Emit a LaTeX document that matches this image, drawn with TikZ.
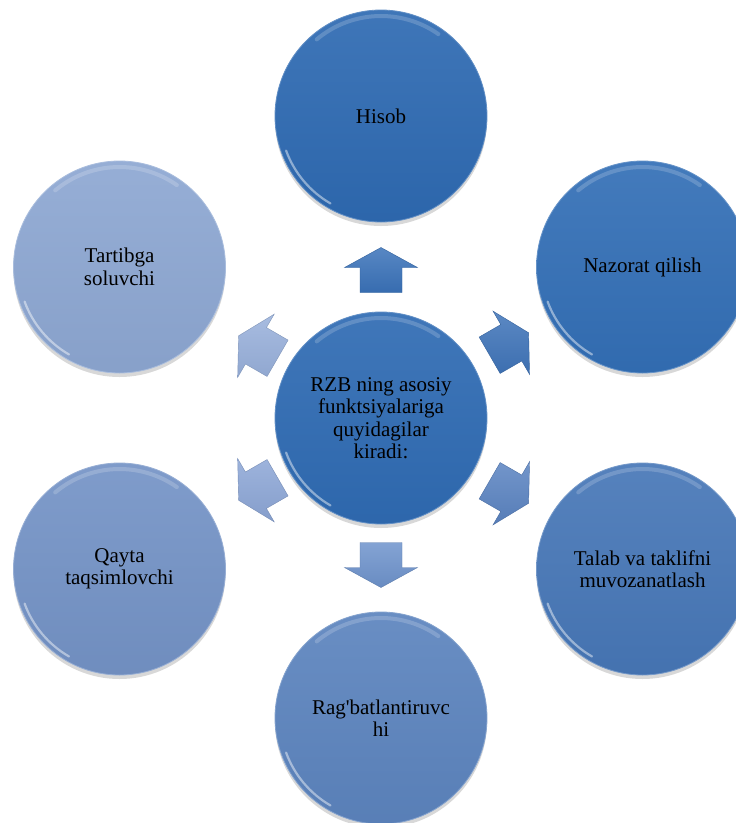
\documentclass[tikz,border=0pt]{standalone}
\usepackage{fontspec}
\setmainfont{Liberation Serif}
\usetikzlibrary{calc,shadows}
\definecolor{cC}{HTML}{2F6BB3}
\definecolor{cA}{HTML}{2E6AB2}
\definecolor{cB}{HTML}{336FB6}
\definecolor{cD}{HTML}{4777B7}
\definecolor{cE}{HTML}{5C84BE}
\definecolor{cF}{HTML}{7493C6}
\definecolor{cG}{HTML}{8DA7D2}
\definecolor{aA}{HTML}{3A72B9}
\definecolor{aB}{HTML}{3F74B9}
\definecolor{aD}{HTML}{5A83C1}
\definecolor{aE}{HTML}{6E93CC}
\definecolor{aF}{HTML}{8CA6D6}
\definecolor{aG}{HTML}{98B0DB}
\tikzset{
  bub/.style={circle, minimum size=212pt, inner sep=0pt, align=center,
    font=\fontsize{21}{22.5}\selectfont, text=black,
    top color=#1!92!white, bottom color=#1!96!black, draw=#1!75!white, line width=0.8pt,
    drop shadow={opacity=0.3, shadow xshift=0pt, shadow yshift=-4pt}},
  gloss/.style={white, opacity=0.45, line width=2.2pt, line cap=round},
  blockarrow/.style={top color=#1!85!white, bottom color=#1!95!black, draw=#1!85!black, line width=0.4pt},
}
\begin{document}
\begin{tikzpicture}[x=1pt,y=-1pt]
\useasboundingbox (0,0) rectangle (736,823);
\fill[white] (0,0) rectangle (736,823);
\clip (0,0) rectangle (736,823);
% outer circles
\node[bub=cA] (n1) at (381,116) {Hisob};
\node[bub=cB] (n2) at (642.5,267) {Nazorat qilish};
\node[bub=cD] (n3) at (642.5,569) {Talab va taklifni\\muvozanatlash};
\node[bub=cE] (n4) at (381,718) {Rag\textquotesingle batlantiruvc\\hi};
\node[bub=cF] (n5) at (119.5,569) {Qayta\\taqsimlovchi};
\node[bub=cG] (n6) at (119.5,267) {Tartibga\\soluvchi};
% center
\node[bub=cC] (c) at (381,418) {RZB ning asosiy\\funktsiyalariga\\quyidagilar\\kiradi:};
% gloss highlights
\foreach \n in {n1,n2,n3,n4,n5,n6,c}{
  \draw[gloss] ($(\n.center)+(200:101pt)$) arc[start angle=200, end angle=240, radius=101pt];
  \draw[gloss, opacity=0.18, line width=4pt] ($(\n.center)+(55:100pt)$) arc[start angle=55, end angle=130, radius=100pt];
}
% block arrows
\path[blockarrow=aA, shift={($(c)!0.49!(n1)$)}, rotate=90]
  (-22.5,21) -- (2.5,21) -- (2.5,36.5) -- (22.5,0) -- (2.5,-36.5) -- (2.5,-21) -- (-22.5,-21) -- cycle;
\path[blockarrow=aB, shift={($(c)!0.49!(n2)$)}, rotate=30]
  (-22.5,21) -- (2.5,21) -- (2.5,36.5) -- (22.5,0) -- (2.5,-36.5) -- (2.5,-21) -- (-22.5,-21) -- cycle;
\path[blockarrow=aD, shift={($(c)!0.49!(n3)$)}, rotate=-30]
  (-22.5,21) -- (2.5,21) -- (2.5,36.5) -- (22.5,0) -- (2.5,-36.5) -- (2.5,-21) -- (-22.5,-21) -- cycle;
\path[blockarrow=aE, shift={($(c)!0.49!(n4)$)}, rotate=-90]
  (-22.5,21) -- (2.5,21) -- (2.5,36.5) -- (22.5,0) -- (2.5,-36.5) -- (2.5,-21) -- (-22.5,-21) -- cycle;
\path[blockarrow=aF, shift={($(c)!0.47!(n5)$)}, rotate=-150]
  (-22.5,21) -- (2.5,21) -- (2.5,36.5) -- (22.5,0) -- (2.5,-36.5) -- (2.5,-21) -- (-22.5,-21) -- cycle;
\path[blockarrow=aG, shift={($(c)!0.47!(n6)$)}, rotate=150]
  (-22.5,21) -- (2.5,21) -- (2.5,36.5) -- (22.5,0) -- (2.5,-36.5) -- (2.5,-21) -- (-22.5,-21) -- cycle;
\end{tikzpicture}
\end{document}
